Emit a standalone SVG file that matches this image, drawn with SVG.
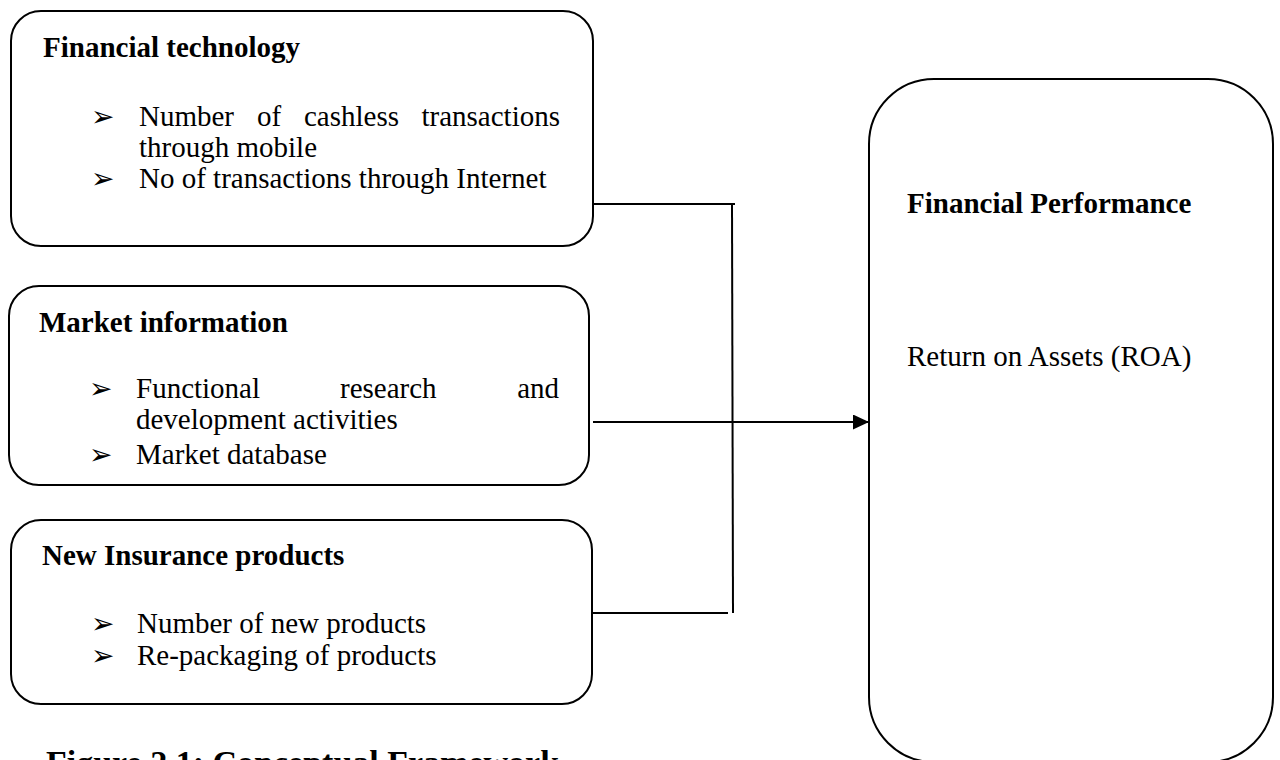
<svg xmlns="http://www.w3.org/2000/svg" width="1280" height="760" viewBox="0 0 1280 760">
<defs>
<marker id="arrow" markerWidth="16" markerHeight="15" refX="16" refY="7.5" orient="auto" markerUnits="userSpaceOnUse">
<path d="M0,0 L16,7.5 L0,15 Z" fill="#000"/>
</marker>
<style>
.box{fill:#fff;stroke:#000;stroke-width:2}
.t{font-family:"Liberation Serif","Times New Roman",serif;font-size:29px;fill:#000}
.b{font-weight:bold}
.bul{font-family:"DejaVu Sans",sans-serif;font-size:28px;fill:#000}
.line{stroke:#000;stroke-width:2;fill:none}
</style>
</defs>
<rect width="1280" height="760" fill="#fff"/>
<g id="connectors">
<line class="line" x1="593" y1="204" x2="735" y2="204"/>
<line class="line" x1="732" y1="204" x2="733" y2="613"/>
<line class="line" x1="588" y1="613" x2="728" y2="613"/>
<line class="line" x1="593" y1="422" x2="869" y2="422" stroke-width="2.5" marker-end="url(#arrow)"/>
</g>
<g id="node-fintech">
<rect class="box" x="11" y="11" width="582" height="235" rx="30" ry="30"/>
<text class="t b" x="43" y="57">Financial technology</text>
<text class="bul" x="91" y="126">➢</text>
<text class="t" y="126"><tspan x="139">Number</tspan><tspan x="257">of</tspan><tspan x="304">cashless</tspan></text>
<text class="t" x="560" y="126" text-anchor="end">transactions</text>
<text class="t" x="139" y="157">through mobile</text>
<text class="bul" x="91" y="188">➢</text>
<text class="t" x="139" y="188">No of transactions through Internet</text>
</g>
<g id="node-market">
<rect class="box" x="9" y="286" width="580" height="199" rx="30" ry="30"/>
<text class="t b" x="39" y="332">Market information</text>
<text class="bul" x="89" y="398">➢</text>
<text class="t" y="398"><tspan x="136">Functional</tspan><tspan x="340">research</tspan></text>
<text class="t" x="559" y="398" text-anchor="end">and</text>
<text class="t" x="136" y="429">development activities</text>
<text class="bul" x="89" y="464">➢</text>
<text class="t" x="136" y="464">Market database</text>
</g>
<g id="node-products">
<rect class="box" x="11" y="520" width="581" height="184" rx="30" ry="30"/>
<text class="t b" x="42" y="565">New Insurance products</text>
<text class="bul" x="91" y="633">➢</text>
<text class="t" x="137" y="633">Number of new products</text>
<text class="bul" x="91" y="665">➢</text>
<text class="t" x="137" y="665">Re-packaging of products</text>
</g>
<g id="node-performance">
<rect class="box" x="869" y="79" width="404" height="683" rx="65" ry="65"/>
<text class="t b" x="907" y="213">Financial Performance</text>
<text class="t" x="907" y="366">Return on Assets (ROA)</text>
</g>
<text class="t b" x="46" y="774" style="font-size:34px">Figure 2.1: Conceptual Framework</text>
</svg>
